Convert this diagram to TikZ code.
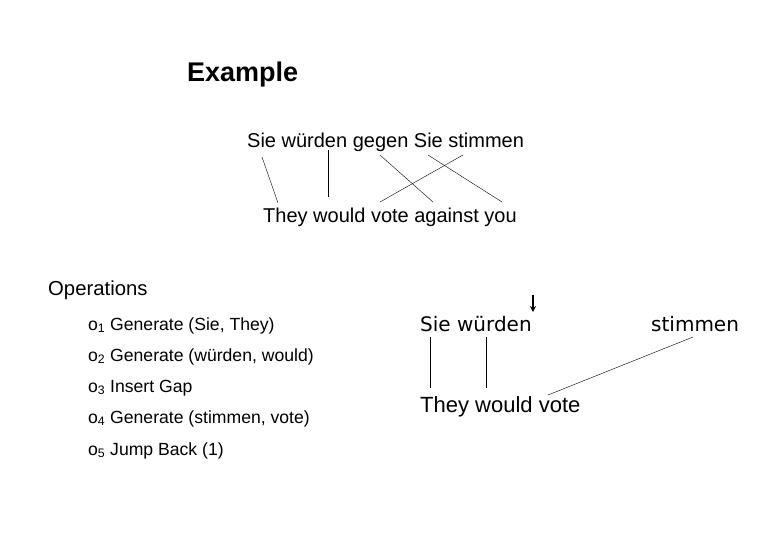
\documentclass[tikz,border=0pt]{standalone}
\usepackage{fontspec}
\setmainfont{Liberation Sans}
\newfontfamily\wordfont{DejaVu Sans}
\usetikzlibrary{arrows.meta}

\tikzset{
    sentence/.style={anchor=base west, font=\fontsize{20}{23}\selectfont},
    oplist/.style={anchor=base west, font=\fontsize{17.6}{21}\selectfont},
    word/.style={anchor=base west, font=\wordfont\fontsize{20}{23}\selectfont},
}

\begin{document}
\begin{tikzpicture}[x=1pt, y=-1pt, every node/.style={inner sep=0pt}]
        \useasboundingbox (0,0) rectangle (766,539);
        % top example
        \node[anchor=base west, font=\fontsize{27}{31}\selectfont\bfseries] (title) at (187,81) {Example};
        \node[sentence] (src) at (247,147) {Sie würden gegen Sie stimmen};
        \node[sentence] (tgt) at (263,222) {They would vote against you};
        \coordinate (s1) at (262,157);
        \coordinate (s2) at (328,150);
        \coordinate (s3) at (380,155);
        \coordinate (s4) at (428,155);
        \coordinate (s5) at (463,155);
        \coordinate (t1) at (278,203);
        \coordinate (t2) at (328,197);
        \coordinate (t3) at (380,202);
        \coordinate (t4) at (433,202);
        \coordinate (t5) at (502,202);
        \draw (s1)--(t1);
        \draw (s2)--(t2);
        \draw (s3)--(t4);
        \draw (s4)--(t5);
        \draw (s5)--(t3);
        % operations
        \node[anchor=base west, font=\fontsize{20.3}{24}\selectfont] (ops) at (48,295) {Operations};
        \node[oplist] (o1) at (88,330) {o\textsubscript{1} Generate (Sie, They)};
        \node[oplist] (o2) at (88,361) {o\textsubscript{2} Generate (würden, would)};
        \node[oplist] (o3) at (88,392) {o\textsubscript{3} Insert Gap};
        \node[oplist] (o4) at (88,423) {o\textsubscript{4} Generate (stimmen, vote)};
        \node[oplist] (o5) at (88,455) {o\textsubscript{5} Jump Back (1)};
        % partial translation
        \node[word] (sw) at (420,331) {Sie würden};
        \node[word] (st) at (651,331) {stimmen};
        \node[anchor=base west, font=\fontsize{22}{26}\selectfont] (twv) at (420,412) {They would vote};
        \coordinate (gap) at (533,295);
        \coordinate (gapend) at (533,312);
        \coordinate (a1) at (430,337);
        \coordinate (a2) at (486,337);
        \coordinate (a3) at (693,337);
        \coordinate (b1) at (430,388);
        \coordinate (b2) at (486,388);
        \coordinate (b3) at (548,395);
        \draw[line width=1.5pt, -{Stealth[length=6pt, width=6pt]}] (gap)--(gapend);
        \draw (a1)--(b1);
        \draw (a2)--(b2);
        \draw (a3)--(b3);
    \end{tikzpicture}
\end{document}
